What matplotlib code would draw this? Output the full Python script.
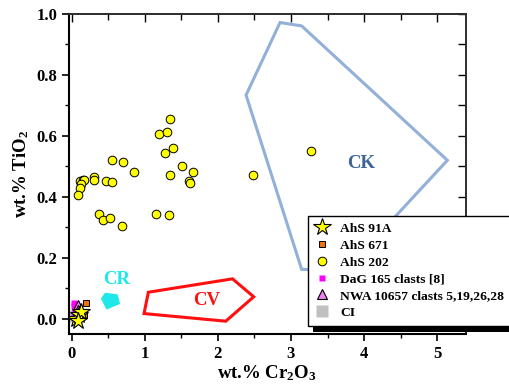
import matplotlib
matplotlib.use("Agg")
import matplotlib.pyplot as plt
from matplotlib.patches import Polygon, Rectangle
from matplotlib.ticker import MultipleLocator

plt.rcParams['font.family'] = ['Liberation Serif', 'DejaVu Serif']
plt.rcParams['font.weight'] = 'bold'
plt.rcParams['mathtext.default'] = 'regular'

# --- data ---
ahs202_x = [1.345, 1.19, 1.308, 1.28, 1.39, 0.556, 0.697, 0.852, 1.509, 1.655, 1.345, 1.60, 1.622,
            0.305, 0.30, 0.469, 0.551, 0.114, 0.15, 0.168, 0.123, 0.114, 0.09, 0.378, 0.424, 0.528,
            0.684, 1.153, 1.331, 2.476, 3.27]
ahs202_y = [0.656, 0.605, 0.613, 0.544, 0.561, 0.520, 0.515, 0.483, 0.502, 0.482, 0.471, 0.451, 0.445,
            0.465, 0.455, 0.451, 0.448, 0.451, 0.454, 0.456, 0.443, 0.428, 0.406, 0.343, 0.325, 0.329,
            0.305, 0.343, 0.342, 0.473, 0.55]
ahs91a_x = [0.06, 0.10, 0.12, 0.08]
ahs91a_y = [0.0, 0.012, 0.022, -0.008]
ahs671_x = [0.19, 0.15, 0.17]
ahs671_y = [0.053, 0.022, 0.012]
dag165_x = [0.03, 0.03, 0.04, 0.04, 0.035]
dag165_y = [0.052, 0.042, 0.032, 0.022, 0.012]
nwa_x = [0.09, 0.10, 0.08]
nwa_y = [0.045, 0.015, 0.028]
ci_x = [0.0]
ci_y = [0.008]

ck_x = [2.85, 3.146, 5.14, 3.75, 3.146, 2.385]
ck_y = [0.972, 0.961, 0.52, 0.16, 0.162, 0.734]
cv_x = [1.048, 2.20, 2.49, 2.107, 0.989]
cv_y = [0.087, 0.131, 0.072, -0.008, 0.017]
cr_x = [0.46, 0.62, 0.65, 0.48, 0.41]
cr_y = [0.083, 0.078, 0.050, 0.033, 0.066]

xlabel = 'wt.% Cr$_2$O$_3$'
ylabel = 'wt.% TiO$_2$'

# --- figure ---
fig = plt.figure(figsize=(5.10, 3.85), dpi=100)
ax = fig.add_axes([0.135, 0.1325, 0.778, 0.8311])
ax.set_xlim(-0.04, 5.39)
ax.set_ylim(-0.05, 1.0)

ax.add_patch(Polygon(list(zip(ck_x, ck_y)), closed=True, fill=False, ec='#92b0d8', lw=2.2, zorder=1))
ax.add_patch(Polygon(list(zip(cv_x, cv_y)), closed=True, fill=False, ec='#ff1010', lw=2.2, zorder=1))
ax.add_patch(Polygon(list(zip(cr_x, cr_y)), closed=True, fc='#1ee8e8', ec='#1ee8e8', lw=1, zorder=1))

ax.text(3.96, 0.51, 'CK', color='#3c6496', fontsize=13.5, fontweight='bold', ha='center', va='center')
ax.text(1.85, 0.061, 'CV', color='#ff1010', fontsize=13.5, fontweight='bold', ha='center', va='center')
ax.text(0.615, 0.129, 'CR', color='#1ee8e8', fontsize=13.5, fontweight='bold', ha='center', va='center')

ax.plot(ahs202_x, ahs202_y, 'o', ms=6.2, mfc='#ffff00', mec='black', mew=0.7, ls='none',
        label='AhS 202', zorder=3)
ax.plot(ci_x, ci_y, 's', ms=8, mfc='#c0c0c0', mec='none', ls='none', label='CI', zorder=2)
ax.plot(dag165_x, dag165_y, 's', ms=5, mfc='#ff00ff', mec='none', ls='none',
        label='DaG 165 clasts [8]', zorder=3)
ax.plot(ahs671_x, ahs671_y, 's', ms=5, mfc='#f07010', mec='black', mew=0.7, ls='none',
        label='AhS 671', zorder=3)
ax.plot(nwa_x, nwa_y, '^', ms=6.5, mfc='#ee82ee', mec='black', mew=0.8, ls='none',
        label='NWA 10657 clasts 5,19,26,28', zorder=4)
ax.plot(ahs91a_x, ahs91a_y, '*', ms=13, mfc='#ffff00', mec='black', mew=0.8, ls='none',
        label='AhS 91A', zorder=4)

ax.set_xlabel(xlabel, fontsize=13.5, fontweight='bold', labelpad=1)
ax.set_ylabel(ylabel, fontsize=13.5, fontweight='bold', labelpad=4)

ax.xaxis.set_minor_locator(MultipleLocator(0.5))
ax.yaxis.set_minor_locator(MultipleLocator(0.1))
ax.set_yticks([0.0, 0.2, 0.4, 0.6, 0.8, 1.0])
ax.set_yticklabels(['0.0', '0.2', '0.4', '0.6', '0.8', '1.0'])
ax.set_xticks([0, 1, 2, 3, 4, 5])
ax.set_xticklabels(['0', '1', '2', '3', '4', '5'])
ax.tick_params(axis='both', which='major', labelsize=12, length=5, width=1.2, direction='out',
               top=False, right=False)
ax.tick_params(axis='both', which='minor', length=3, width=1.0, direction='out')
for lab in ax.get_xticklabels() + ax.get_yticklabels():
    lab.set_fontweight('bold')

# inward ticks on top and right
axt = ax.secondary_xaxis('top')
axt.xaxis.set_major_locator(MultipleLocator(1))
axt.xaxis.set_minor_locator(MultipleLocator(0.5))
axt.tick_params(which='major', direction='in', length=6, width=1.0, labeltop=False)
axt.tick_params(which='minor', direction='in', length=4, width=1.0)
axt.set_xticklabels([])
axr = ax.secondary_yaxis('right')
axr.yaxis.set_major_locator(MultipleLocator(0.2))
axr.yaxis.set_minor_locator(MultipleLocator(0.1))
axr.tick_params(which='major', direction='in', length=6, width=1.0, labelright=False)
axr.tick_params(which='minor', direction='in', length=6, width=1.0)
axr.set_yticklabels([])

for s in ['left', 'bottom']:
    ax.spines[s].set_linewidth(1.5)
for s in ['top', 'right']:
    ax.spines[s].set_linewidth(1.2)
    ax.spines[s].set_color('#333333')
axt.spines['top'].set_linewidth(1.2)
axr.spines['right'].set_linewidth(1.2)

handles, labels = ax.get_legend_handles_labels()
order = ['AhS 91A', 'AhS 671', 'AhS 202', 'DaG 165 clasts [8]', 'NWA 10657 clasts 5,19,26,28', 'CI']
hmap = dict(zip(labels, handles))
leg = ax.legend([hmap[l] for l in order], order, loc='upper left',
                bbox_to_anchor=(0.604, 0.439), bbox_transform=fig.transFigure,
                frameon=True, fancybox=False, framealpha=1, edgecolor='black',
                prop={'family': 'Liberation Serif', 'weight': 'bold', 'size': 9.7},
                labelspacing=0.32, handlelength=1.1, handletextpad=0.8, borderpad=0.5,
                borderaxespad=0, markerscale=1.0)
leg.get_frame().set_linewidth(1.0)
leg.set_zorder(10)

fig.canvas.draw()
bb = leg.get_window_extent().transformed(fig.transFigure.inverted())
shadow = Rectangle((bb.x0 + 5 / 510, bb.y0 - 6 / 385), bb.width, bb.height,
                   transform=fig.transFigure, fc='black', ec='none', zorder=9)
ax.add_artist(shadow)
shadow.set_clip_on(False)

fig.savefig('out.png', dpi=100)
